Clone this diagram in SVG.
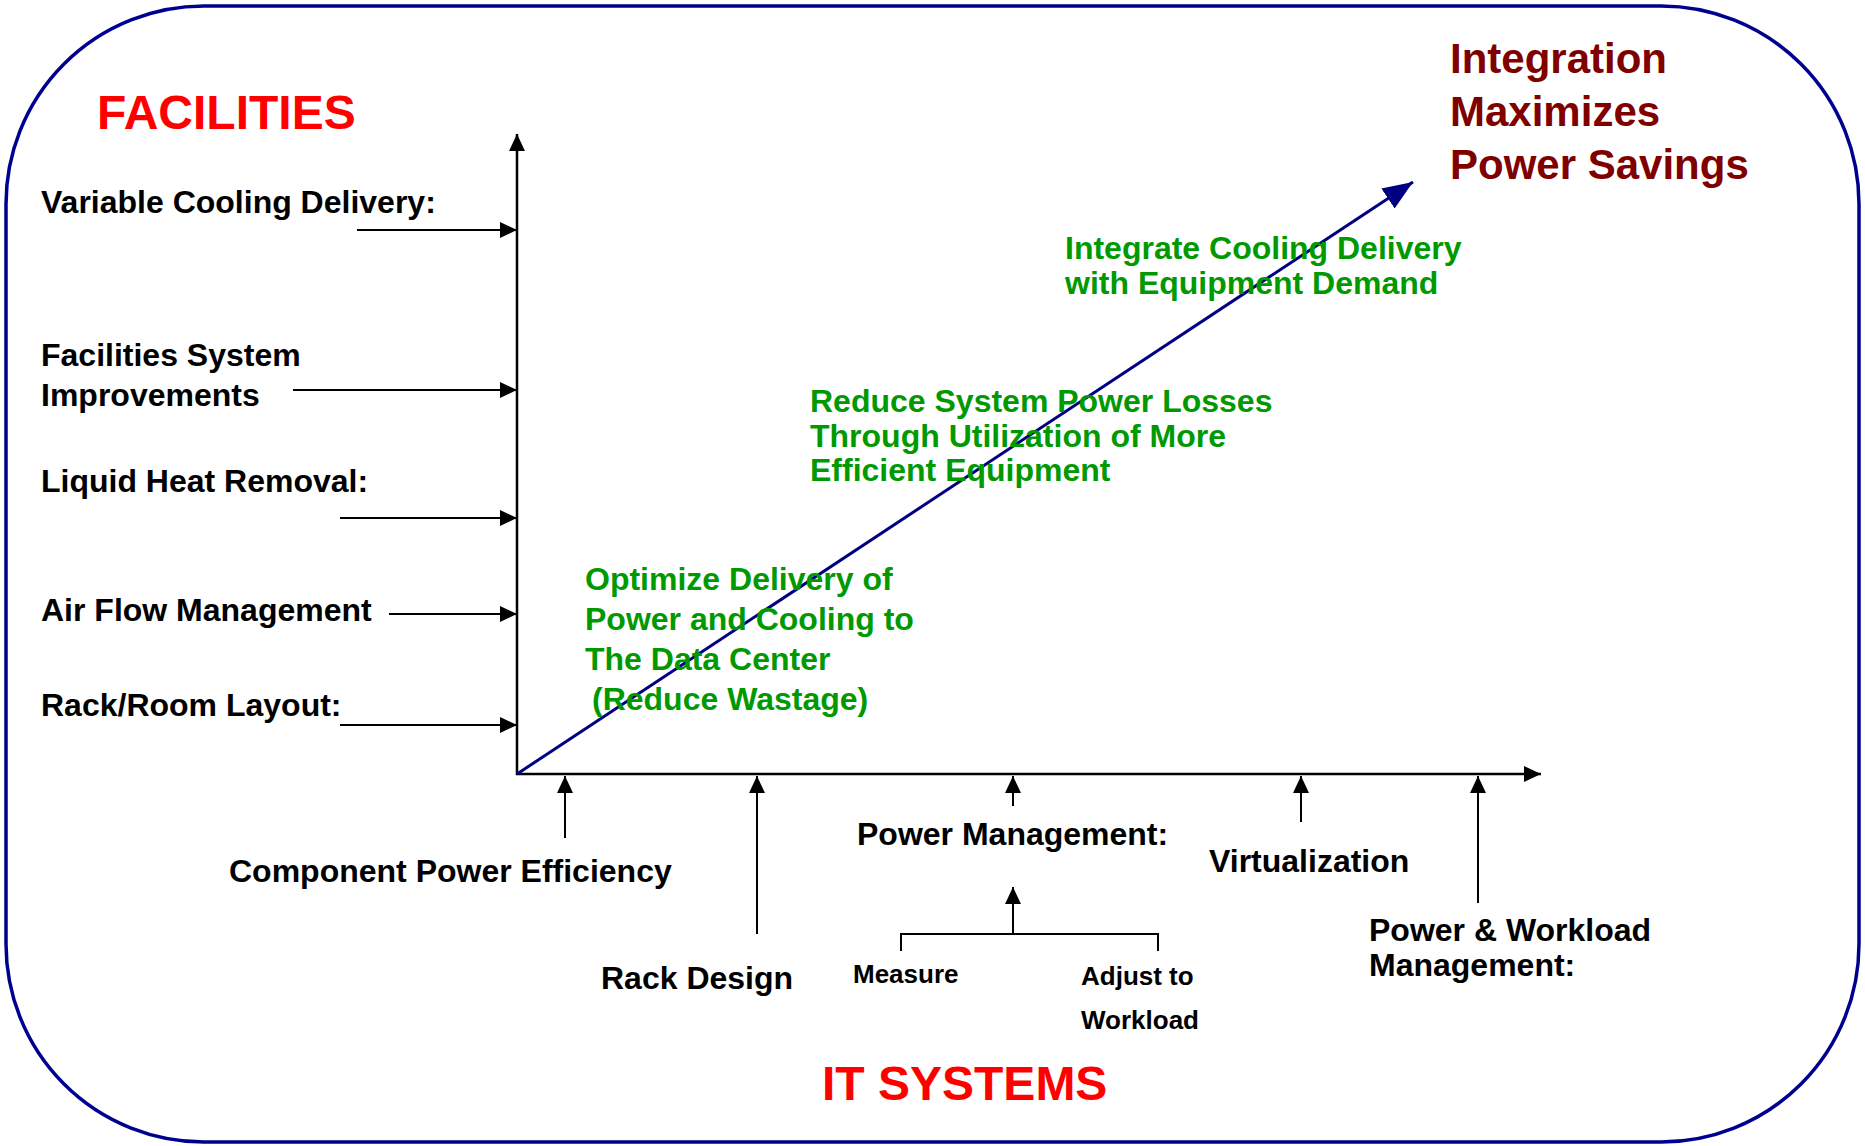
<svg xmlns="http://www.w3.org/2000/svg" width="1865" height="1146" viewBox="0 0 1865 1146">
<style>
text{font-family:"Liberation Sans",Arial,sans-serif;font-weight:bold}
.lbl{font-size:32px;fill:#000}
.sm{font-size:26px;fill:#000}
.grn{font-size:32px;fill:#009900}
.hd{font-size:48px;fill:#ff0000}
.dr{font-size:42px;fill:#800000}
.ln{stroke:#000;stroke-width:2;fill:none}
.ax{stroke:#000;stroke-width:2.5;fill:none}
</style>
<defs>
<marker id="ah" markerWidth="17" markerHeight="16" refX="17" refY="8" orient="auto" markerUnits="userSpaceOnUse"><path d="M0,0 L17,8 L0,16 z" fill="#000"/></marker>
<marker id="bh" markerWidth="30" markerHeight="24" refX="30" refY="12" orient="auto" markerUnits="userSpaceOnUse"><path d="M0,0 L30,12 L0,24 z" fill="#000080"/></marker>
</defs>
<rect id="frame" x="6" y="6" width="1853" height="1136" rx="198" ry="198" fill="#fff" stroke="#000090" stroke-width="3.5"/>

<g id="connectors">
<line class="ax" x1="517" y1="775" x2="517" y2="134" marker-end="url(#ah)"/>
<line class="ax" x1="516" y1="774" x2="1541" y2="774" marker-end="url(#ah)"/>
<line class="ln" x1="357" y1="230" x2="517" y2="230" marker-end="url(#ah)"/>
<line class="ln" x1="293" y1="390" x2="517" y2="390" marker-end="url(#ah)"/>
<line class="ln" x1="340" y1="518" x2="517" y2="518" marker-end="url(#ah)"/>
<line class="ln" x1="389" y1="614" x2="517" y2="614" marker-end="url(#ah)"/>
<line class="ln" x1="340" y1="725" x2="517" y2="725" marker-end="url(#ah)"/>
<line class="ln" x1="565" y1="838" x2="565" y2="776" marker-end="url(#ah)"/>
<line class="ln" x1="757" y1="934" x2="757" y2="776" marker-end="url(#ah)"/>
<line class="ln" x1="1013" y1="806" x2="1013" y2="776" marker-end="url(#ah)"/>
<line class="ln" x1="1301" y1="822" x2="1301" y2="776" marker-end="url(#ah)"/>
<line class="ln" x1="1478" y1="903" x2="1478" y2="776" marker-end="url(#ah)"/>
<line class="ln" x1="1013" y1="934" x2="1013" y2="887" marker-end="url(#ah)"/>
<polyline class="ln" points="901,951 901,934 1158,934 1158,951"/>
<line x1="517" y1="774" x2="1413" y2="182" stroke="#000080" stroke-width="3" marker-end="url(#bh)"/>
</g>

<g id="facilities"><text class="hd" x="97" y="129">FACILITIES</text></g>
<g id="it-systems"><text class="hd" x="822" y="1100">IT SYSTEMS</text></g>
<g id="integration"><text class="dr" x="1450" y="73">Integration</text><text class="dr" x="1450" y="126">Maximizes</text><text class="dr" x="1450" y="179">Power Savings</text></g>

<g id="variable-cooling"><text class="lbl" x="41" y="213">Variable Cooling Delivery:</text></g>
<g id="facilities-system"><text class="lbl" x="41" y="366">Facilities System</text><text class="lbl" x="41" y="406">Improvements</text></g>
<g id="liquid-heat"><text class="lbl" x="41" y="492">Liquid Heat Removal:</text></g>
<g id="air-flow"><text class="lbl" x="41" y="621">Air Flow Management</text></g>
<g id="rack-room"><text class="lbl" x="41" y="716">Rack/Room Layout:</text></g>

<g id="integrate-cooling"><text class="grn" x="1065" y="259">Integrate Cooling Delivery</text><text class="grn" x="1065" y="294">with Equipment Demand</text></g>
<g id="reduce-losses"><text class="grn" x="810" y="412">Reduce System Power Losses</text><text class="grn" x="810" y="447">Through Utilization of More</text><text class="grn" x="810" y="481">Efficient Equipment</text></g>
<g id="optimize"><text class="grn" x="585" y="590">Optimize Delivery of</text><text class="grn" x="585" y="630">Power and Cooling to</text><text class="grn" x="585" y="670">The Data Center</text><text class="grn" x="592" y="710">(Reduce Wastage)</text></g>

<g id="component-power"><text class="lbl" x="229" y="882">Component Power Efficiency</text></g>
<g id="rack-design"><text class="lbl" x="601" y="989">Rack Design</text></g>
<g id="power-management"><text class="lbl" x="857" y="845">Power Management:</text></g>
<g id="measure"><text class="sm" x="853" y="983">Measure</text></g>
<g id="adjust"><text class="sm" x="1081" y="985">Adjust to</text><text class="sm" x="1081" y="1029">Workload</text></g>
<g id="virtualization"><text class="lbl" x="1209" y="872">Virtualization</text></g>
<g id="power-workload"><text class="lbl" x="1369" y="941">Power &amp; Workload</text><text class="lbl" x="1369" y="976">Management:</text></g>
</svg>
